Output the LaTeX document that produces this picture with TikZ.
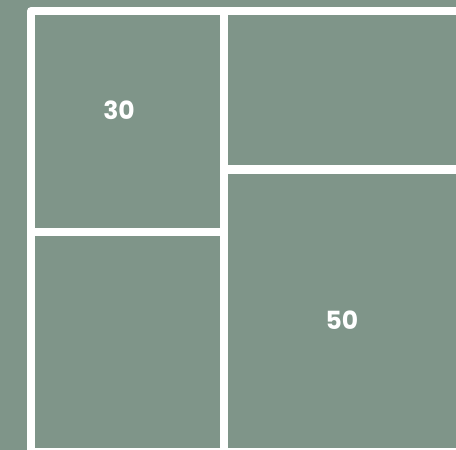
\documentclass[tikz,border=0pt]{standalone}
\usepackage{fontspec}
\setmainfont{Poppins}
\definecolor{sage}{RGB}{127,149,137}
\tikzset{
  tile/.style={fill=sage,draw=none,inner sep=0pt,anchor=north west},
  value/.style={inner sep=0pt,anchor=center,text=white,font=\fontsize{25}{28}\selectfont\bfseries},
}
\begin{document}
\begin{tikzpicture}[x=1pt,y=-1pt]
% 456 x 450, cropped tiling
\useasboundingbox (0,0) rectangle (456,450);
\clip (0,0) rectangle (456,450);
\path[fill=sage] (0,0) rectangle (456,450);
\path[fill=white,rounded corners=4pt] (27,7) rectangle (480,480);
\node[tile,minimum width=185pt,minimum height=213pt] (ttl) at (35,15) {};
\node[tile,minimum width=185pt,minimum height=212pt] (tbl) at (35,236) {};
\node[tile,minimum width=240pt,minimum height=150pt] (ttr) at (228,15) {};
\node[tile,minimum width=240pt,minimum height=274pt] (tbr) at (228,174) {};
\node[value] (v30) at (119,110.5) {30};
\node[value] (v50) at (342,320) {50};
\end{tikzpicture}
\end{document}
